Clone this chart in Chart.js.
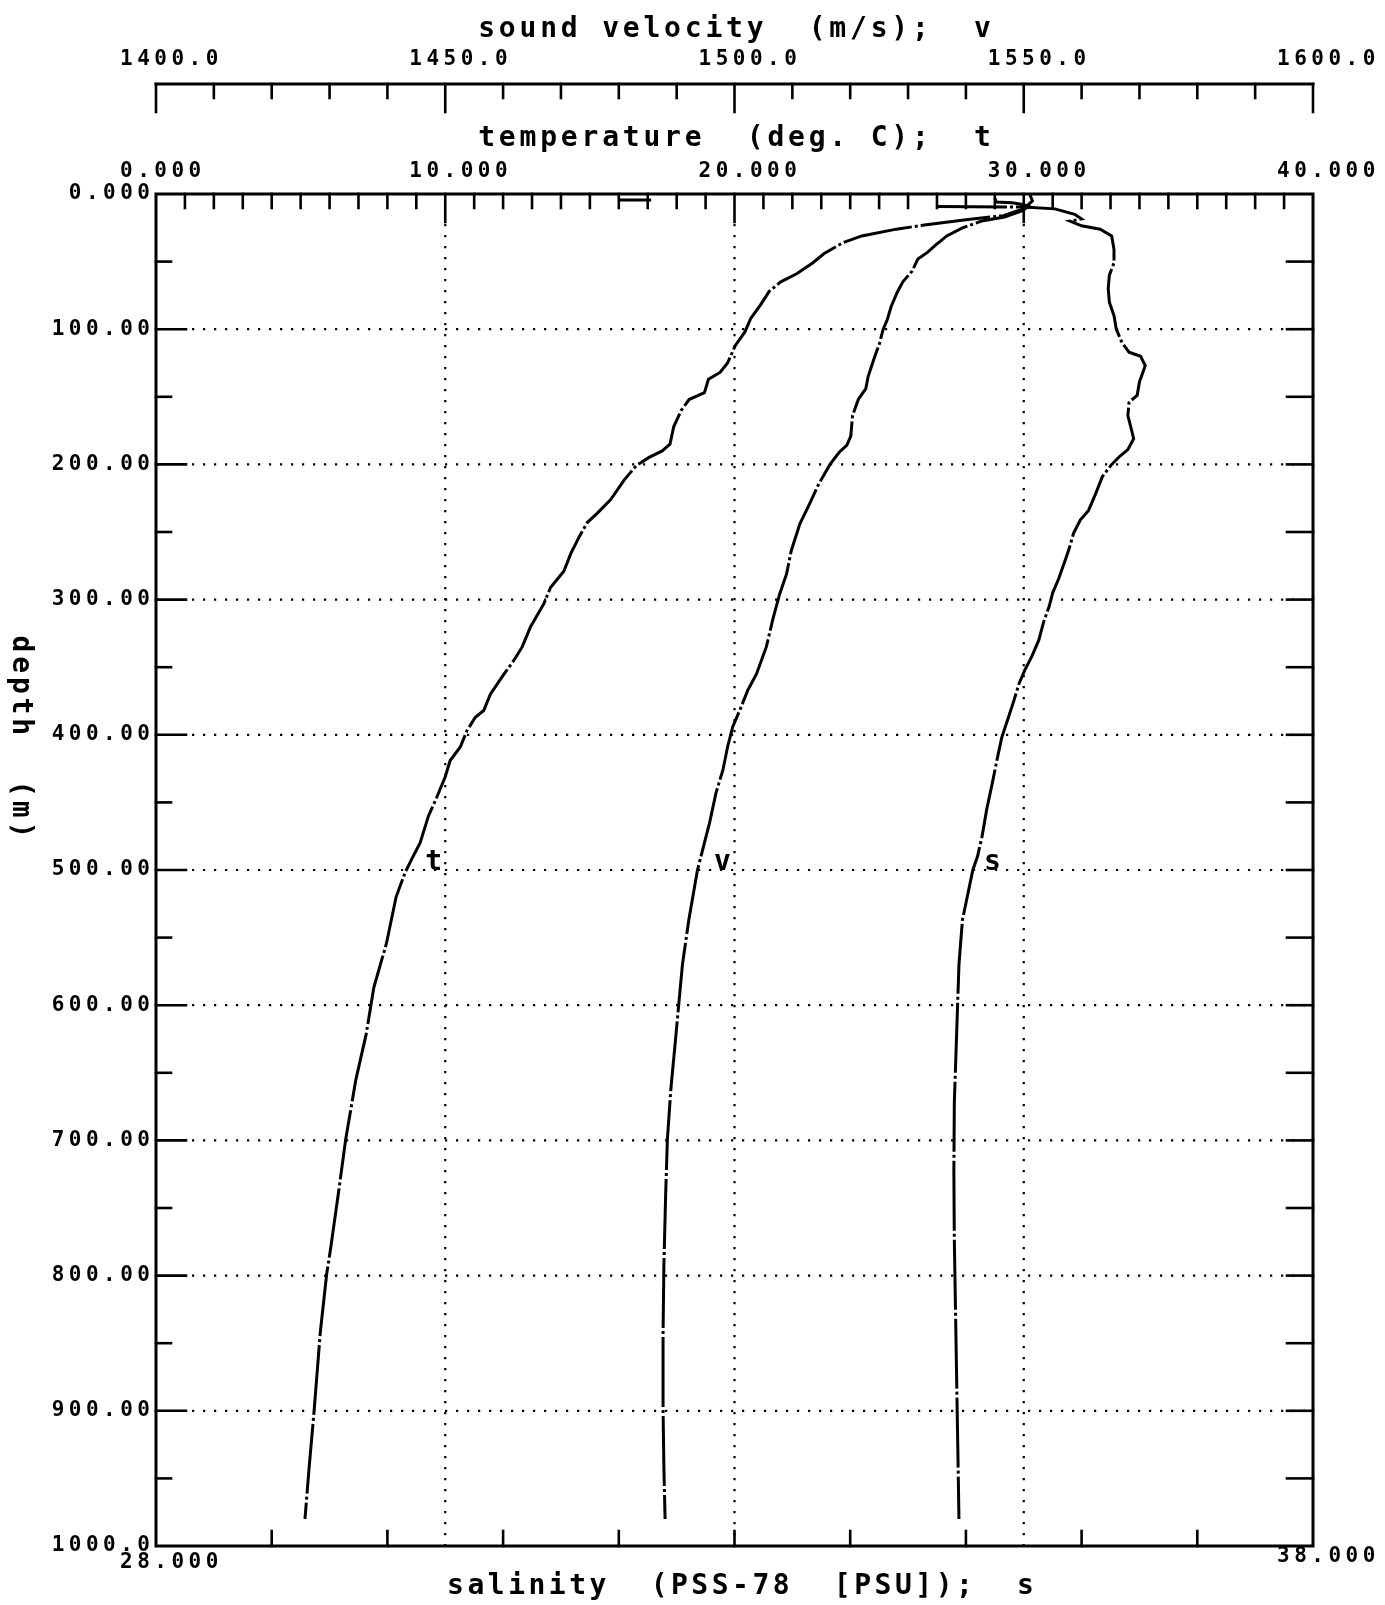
<!DOCTYPE html>
<html>
<head>
<meta charset="utf-8">
<script src="https://cdn.jsdelivr.net/npm/chart.js@4.4.1/dist/chart.umd.min.js"></script>
<style>
  html, body { margin: 0; padding: 0; background: #fff; }
  canvas { display: block; }
</style>
</head>
<body>
<canvas id="profile" width="1385" height="1605"></canvas>
<script>
// axis ticks / labels
const depthTicks = [0, 100, 200, 300, 400, 500, 600, 700, 800, 900, 1000];
const depthLabels = ['0.000', '100.00', '200.00', '300.00', '400.00', '500.00', '600.00', '700.00', '800.00', '900.00', '1000.0'];
const tempTicks = [0, 10, 20, 30, 40];
const tempLabels = ['0.000', '10.000', '20.000', '30.000', '40.000'];
const velTicks = [1400, 1450, 1500, 1550, 1600];
const velLabels = ['1400.0', '1450.0', '1500.0', '1550.0', '1600.0'];
const salTicks = [28, 38];
const salLabels = ['28.000', '38.000'];

// temperature profile t (deg C) vs depth (m)
const tempDepth = [3, 6, 6.5, 8, 9.5, 11, 13, 16, 19, 22.5, 26, 31, 36, 44, 51, 59, 65, 72, 82, 92, 102, 112, 125, 132, 137, 147, 152, 160, 172, 185, 190, 195, 201, 212, 226, 236, 243, 254, 266, 279, 291, 303, 320, 335, 345, 357, 370, 382, 387, 397, 409, 419, 431, 446, 460, 480, 492, 502, 520, 554, 587, 621, 655, 699, 740, 781, 799, 842, 899, 943, 980];
const tempValue = [29.0, 29.05, 29.6, 30.0, 30.2, 30.0, 29.7, 29.3, 28.0, 26.7, 25.6, 24.4, 23.75, 23.1, 22.7, 22.15, 21.6, 21.2, 20.9, 20.56, 20.36, 20.03, 19.76, 19.5, 19.1, 18.96, 18.43, 18.16, 17.9, 17.77, 17.5, 17.03, 16.6, 16.17, 15.72, 15.26, 14.91, 14.62, 14.34, 14.1, 13.64, 13.41, 12.95, 12.66, 12.37, 11.97, 11.56, 11.33, 11.04, 10.75, 10.52, 10.17, 10.0, 9.71, 9.42, 9.13, 8.84, 8.61, 8.3, 7.97, 7.53, 7.27, 6.91, 6.56, 6.30, 6.03, 5.9, 5.68, 5.47, 5.29, 5.15];

// sound velocity v (m/s) vs depth (m)
const velDepth = [0, 5, 9, 12, 15, 17, 20, 25, 31, 38, 43, 48, 57, 65, 73, 83, 93, 100, 110, 122, 135, 144, 152, 164, 179, 186, 191, 200, 215, 229, 244, 264, 281, 296, 315, 335, 355, 367, 382, 394, 409, 426, 443, 465, 480, 500, 537, 570, 621, 662, 699, 740, 791, 842, 899, 943, 980];
const velValue = [1551, 1551.5, 1550.5, 1550, 1548, 1546.7, 1542.7, 1539.4, 1536.7, 1534.7, 1533.4, 1531.7, 1530.7, 1529.1, 1528.1, 1527.1, 1526.4, 1525.7, 1525.1, 1524.1, 1523.1, 1522.7, 1521.4, 1520.4, 1520.1, 1519.4, 1518.1, 1516.5, 1514.5, 1513.0, 1511.3, 1509.8, 1509.0, 1507.8, 1506.6, 1505.5, 1503.8, 1502.3, 1500.9, 1499.7, 1498.8, 1498.0, 1496.8, 1495.7, 1494.8, 1493.6, 1492.1, 1491.0, 1489.9, 1489.0, 1488.4, 1488.1, 1487.8, 1487.65, 1487.65, 1487.8, 1488.0];

// salinity s (PSU) vs depth (m); null marks the pen lift at the surface
const salDepth = [4.5, 4.5, null, 9.3, 9.6, 11, 15, 18.5, 20, 23.5, 26, 31, 41, 51, 60, 70, 80, 90, 100, 110, 117, 120, 127, 139, 149, 154, 164, 174, 181, 189, 194, 200, 209, 222, 234, 241, 251, 263, 273, 285, 295, 305, 317, 330, 342, 352, 362, 376, 389, 402, 418, 435, 455, 475, 490, 500, 537, 570, 621, 672, 723, 774, 825, 876, 927, 980];
const salValue = [32.0, 32.28, null, 34.75, 35.5, 35.77, 35.94, 36.0, 35.9, 36.0, 36.16, 36.26, 36.28, 36.28, 36.24, 36.23, 36.24, 36.28, 36.3, 36.35, 36.41, 36.51, 36.55, 36.5, 36.48, 36.41, 36.4, 36.43, 36.45, 36.4, 36.33, 36.26, 36.18, 36.12, 36.06, 35.99, 35.93, 35.89, 35.85, 35.80, 35.75, 35.72, 35.67, 35.63, 35.57, 35.51, 35.46, 35.41, 35.36, 35.31, 35.27, 35.23, 35.18, 35.14, 35.10, 35.06, 34.97, 34.94, 34.92, 34.90, 34.896, 34.90, 34.91, 34.92, 34.93, 34.94];

const curveLabels = [
    { text: 't', axis: 'x', value: 9.6, depth: 500 },
    { text: 'v', axis: 'xV', value: 1497.9, depth: 500 },
    { text: 's', axis: 'xS', value: 35.23, depth: 500 }
];

const FONT = "'DejaVu Sans Mono', 'Liberation Mono', monospace";

const toPoints = (depths, values) => depths.map((d, i) => ({ x: values[i], y: d }));

const drawText = (ctx, s, x, y, size, weight, spacing, align) => {
    ctx.font = `${weight} ${size}px ${FONT}`;
    ctx.letterSpacing = spacing + 'px';
    ctx.textAlign = 'left';
    ctx.textBaseline = 'middle';
    const w = ctx.measureText(s).width - spacing;
    const x0 = align === 'center' ? x - w / 2 : align === 'right' ? x - w : x;
    ctx.fillText(s, x0, y);
};

const line = (ctx, x1, y1, x2, y2) => {
    ctx.beginPath(); ctx.moveTo(x1, y1); ctx.lineTo(x2, y2); ctx.stroke();
};

const frame = {
    id: 'frame',
    beforeDatasetsDraw(chart) {
        const { ctx, chartArea: a, scales } = chart;
        const { x, y } = scales;
        ctx.save();
        ctx.strokeStyle = '#000';
        ctx.lineWidth = 2.2;
        ctx.setLineDash([2.2, 8.8]);
        [10, 20, 30].forEach(t => line(ctx, x.getPixelForValue(t), a.top + 30, x.getPixelForValue(t), a.bottom));
        depthTicks.slice(1, -1).forEach(d => line(ctx, a.left + 36, y.getPixelForValue(d), a.right, y.getPixelForValue(d)));
        ctx.restore();
    },
    afterDatasetsDraw(chart) {
        const { ctx, chartArea: a, scales } = chart;
        const { x, xV, xS, y } = scales;
        ctx.save();
        ctx.strokeStyle = '#000';
        ctx.fillStyle = '#000';
        ctx.setLineDash([]);
        ctx.lineCap = 'square';

        // frame
        ctx.lineWidth = 3;
        ctx.strokeRect(a.left, a.top, a.right - a.left, a.bottom - a.top);

        // temperature ticks (top)
        ctx.lineWidth = 2.6;
        for (let t = 1; t < 40; t++) {
            const px = x.getPixelForValue(t);
            line(ctx, px, a.top, px, a.top + (t % 10 === 0 ? 28 : 14));
        }
        // depth ticks (left and right)
        for (let d = 50; d < 1000; d += 50) {
            const py = y.getPixelForValue(d);
            line(ctx, a.left, py, a.left + (d % 100 === 0 ? 30 : 15), py);
            line(ctx, a.right, py, a.right - 26, py);
        }
        // salinity ticks (bottom)
        for (let s = 29; s < 38; s++) {
            const px = xS.getPixelForValue(s);
            line(ctx, px, a.bottom, px, a.bottom - 15);
        }

        // sound velocity scale bar
        const barY = 84;
        ctx.lineWidth = 3;
        line(ctx, xV.getPixelForValue(1400), barY, xV.getPixelForValue(1600), barY);
        ctx.lineWidth = 2.6;
        for (let v = 1400; v <= 1600; v += 10) {
            const px = xV.getPixelForValue(v);
            line(ctx, px, barY, px, barY + (v % 50 === 0 ? 28 : 14));
        }

        // tick labels
        velTicks.forEach((v, i) => drawText(ctx, velLabels[i], xV.getPixelForValue(v) - 36, 60, 21, 'bold', 4.5, 'left'));
        tempTicks.forEach((t, i) => drawText(ctx, tempLabels[i], x.getPixelForValue(t) - 36, 172, 21, 'bold', 4.5, 'left'));
        depthTicks.forEach((d, i) => drawText(ctx, depthLabels[i], a.left - 6, y.getPixelForValue(d), 21, 'bold', 4.5, 'right'));
        drawText(ctx, salLabels[0], xS.getPixelForValue(salTicks[0]) - 36, a.bottom + 17, 21, 'bold', 4.5, 'left');
        drawText(ctx, salLabels[1], xS.getPixelForValue(salTicks[1]) - 36, a.bottom + 11, 21, 'bold', 4.5, 'left');

        // axis titles
        const mid = (a.left + a.right) / 2;
        drawText(ctx, 'sound velocity  (m/s);  v', mid, 30, 28, 'bold', 3.8, 'center');
        drawText(ctx, 'temperature  (deg. C);  t', mid, 139, 28, 'bold', 3.8, 'center');
        drawText(ctx, 'salinity  (PSS-78  [PSU]);  s', mid + 6, 1587, 28, 'bold', 3.5, 'center');

        ctx.save();
        ctx.translate(20, 737);
        ctx.rotate(Math.PI / 2);
        drawText(ctx, 'depth  (m)', 0, 0, 28, 'bold', 3.8, 'center');
        ctx.restore();

        // curve labels
        curveLabels.forEach(c => drawText(ctx, c.text, scales[c.axis].getPixelForValue(c.value), y.getPixelForValue(c.depth) - 7, 28, 'bold', 0, 'center'));

        ctx.restore();
    }
};

const curveStyle = {
    borderColor: '#000',
    borderWidth: 3,
    borderDash: [70, 3, 3, 3],
    pointRadius: 0,
    tension: 0,
    fill: false,
    spanGaps: false,
    yAxisID: 'y'
};

new Chart(document.getElementById('profile'), {
    type: 'line',
    data: {
        datasets: [
            { ...curveStyle, label: 't', xAxisID: 'x', data: toPoints(tempDepth, tempValue) },
            { ...curveStyle, label: 'v', xAxisID: 'xV', data: toPoints(velDepth, velValue) },
            { ...curveStyle, label: 's', xAxisID: 'xS', data: toPoints(salDepth, salValue) }
        ]
    },
    options: {
        responsive: false,
        animation: false,
        layout: { padding: { left: 156, top: 194, right: 72, bottom: 59 } },
        plugins: { legend: { display: false }, tooltip: { enabled: false } },
        scales: {
            x: { type: 'linear', axis: 'x', min: 0, max: 40, display: false },
            xV: { type: 'linear', axis: 'x', min: 1400, max: 1600, display: false },
            xS: { type: 'linear', axis: 'x', min: 28, max: 38, display: false },
            y: { type: 'linear', axis: 'y', min: 0, max: 1000, reverse: true, display: false }
        }
    },
    plugins: [frame]
});
</script>
</body>
</html>
